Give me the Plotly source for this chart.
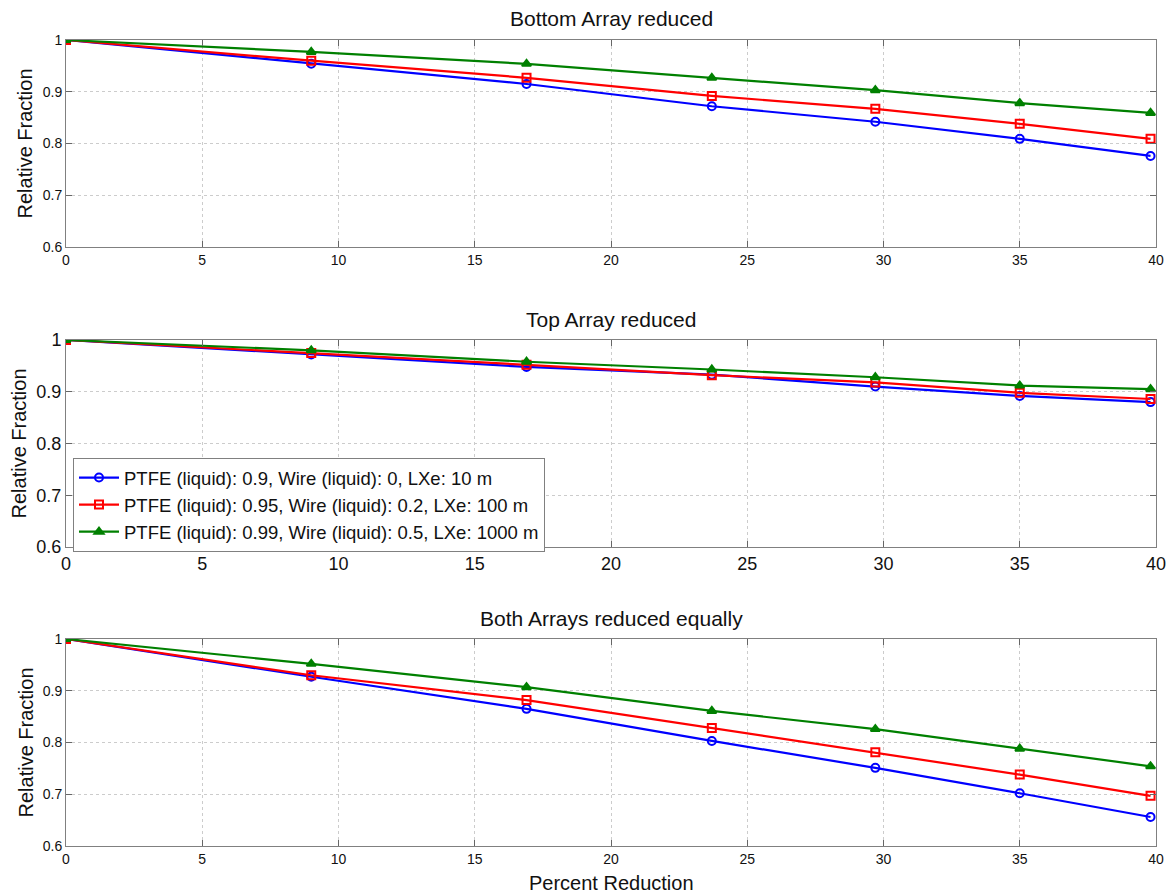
import plotly.graph_objects as go
from plotly.subplots import make_subplots

x = [0, 9.0, 16.9, 23.7, 29.7, 35.0, 39.8]

bottom_blue = [1.0, 0.954, 0.915, 0.872, 0.842, 0.809, 0.776]
bottom_red = [1.0, 0.960, 0.927, 0.892, 0.867, 0.838, 0.809]
bottom_green = [1.0, 0.977, 0.954, 0.927, 0.903, 0.878, 0.859]

top_blue = [1.0, 0.972, 0.948, 0.933, 0.910, 0.892, 0.880]
top_red = [1.0, 0.975, 0.952, 0.932, 0.918, 0.898, 0.886]
top_green = [1.0, 0.980, 0.958, 0.943, 0.928, 0.912, 0.905]

both_blue = [1.0, 0.927, 0.865, 0.803, 0.751, 0.702, 0.656]
both_red = [1.0, 0.930, 0.882, 0.828, 0.781, 0.738, 0.697]
both_green = [1.0, 0.952, 0.907, 0.861, 0.826, 0.788, 0.754]

names = [
    "PTFE (liquid): 0.9, Wire (liquid): 0, LXe: 10 m",
    "PTFE (liquid): 0.95, Wire (liquid): 0.2, LXe: 100 m",
    "PTFE (liquid): 0.99, Wire (liquid): 0.5, LXe: 1000 m",
]
titles = ["Bottom Array reduced", "Top Array reduced", "Both Arrays reduced equally"]
x_ticks = [0, 5, 10, 15, 20, 25, 30, 35, 40]
y_ticks = [0.6, 0.7, 0.8, 0.9, 1.0]
y_ticklabels = ["0.6", "0.7", "0.8", "0.9", "1"]

colors = ["#0000ff", "#ff0000", "#008000"]
symbols = ["circle-open", "square-open", "triangle-up"]

panels = [
    [bottom_blue, bottom_red, bottom_green],
    [top_blue, top_red, top_green],
    [both_blue, both_red, both_green],
]

fig = make_subplots(rows=3, cols=1)

FONT = "Liberation Sans, Arial, Helvetica, sans-serif"
H = 894.0
W = 1168.0
xdom = [66 / W, 1156 / W]
panel_px = [(40, 247), (340, 547), (639, 846)]
ydoms = [[1 - b / H, 1 - t / H] for t, b in panel_px]
tick_sizes = [14, 18, 14]

for r, series in enumerate(panels, start=1):
    for i, ys in enumerate(series):
        fig.add_trace(
            go.Scatter(
                x=x, y=ys, mode="lines+markers", name=names[i],
                line=dict(color=colors[i], width=2.2),
                marker=dict(symbol=symbols[i], size=8, color=colors[i],
                            line=dict(color=colors[i], width=2)),
                showlegend=(r == 2),
            ),
            row=r, col=1,
        )
    fig.update_xaxes(
        row=r, col=1, range=[0, 40], domain=xdom,
        tickvals=x_ticks, ticks="inside", ticklen=6, tickcolor="#666",
        showgrid=True, gridcolor="#cccccc", griddash="dot", gridwidth=1,
        showline=True, linecolor="#808080", linewidth=1, mirror="ticks",
        tickfont=dict(size=tick_sizes[r - 1], family=FONT, color="#111"),
        zeroline=False, automargin=False,
    )
    fig.update_yaxes(
        row=r, col=1, range=[0.6, 1.0], domain=ydoms[r - 1],
        tickvals=y_ticks, ticktext=y_ticklabels,
        ticks="inside", ticklen=6, tickcolor="#666",
        showgrid=True, gridcolor="#cccccc", griddash="dot", gridwidth=1,
        showline=True, linecolor="#808080", linewidth=1, mirror="ticks",
        tickfont=dict(size=tick_sizes[r - 1], family=FONT, color="#111"),
        zeroline=False, automargin=False,
    )

annotations = []
title_y = [19, 319, 618]
for t, ty in zip(titles, title_y):
    annotations.append(dict(
        text=t, x=(xdom[0] + xdom[1]) / 2, y=1 - ty / H, xref="paper", yref="paper",
        showarrow=False, font=dict(size=21, family=FONT, color="#111"),
        xanchor="center", yanchor="middle",
    ))
ytitle_x = [25, 19, 25]
for (t, b), tx in zip(panel_px, ytitle_x):
    annotations.append(dict(
        text="Relative Fraction", x=tx / W, y=1 - (t + b) / 2 / H,
        xref="paper", yref="paper", showarrow=False, textangle=-90,
        font=dict(size=20, family=FONT, color="#111"),
        xanchor="center", yanchor="middle",
    ))
annotations.append(dict(
    text="Percent Reduction", x=(xdom[0] + xdom[1]) / 2, y=1 - 883 / H,
    xref="paper", yref="paper", showarrow=False,
    font=dict(size=20, family=FONT, color="#111"),
    xanchor="center", yanchor="middle",
))

fig.update_layout(
    width=1168, height=894,
    margin=dict(l=0, r=0, t=0, b=0),
    paper_bgcolor="white", plot_bgcolor="white",
    font=dict(family=FONT, color="#111"),
    annotations=annotations,
    legend=dict(
        x=73 / W, y=1 - 458 / H, xanchor="left", yanchor="top",
        bgcolor="white", bordercolor="#808080", borderwidth=1,
        font=dict(size=18.5, family=FONT, color="#111"),
        tracegroupgap=0, itemwidth=40,
    ),
)

fig.write_html("out.html", config={"displayModeBar": False},
               post_script="document.body.style.margin='0';")
